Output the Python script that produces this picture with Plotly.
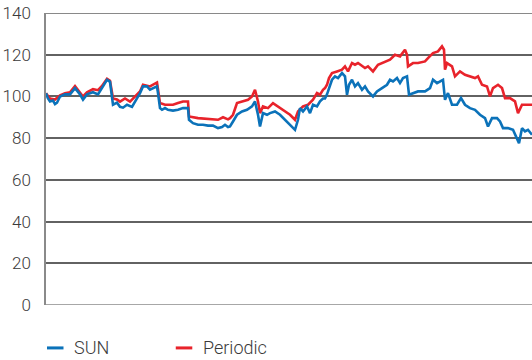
import plotly.graph_objects as go

# x positions as trading-day index
sun_days = [0, 2, 4, 7, 9, 11, 14, 19, 24, 29, 34, 37, 41, 47, 52, 56, 61, 64, 67, 71, 74, 77, 81, 86, 91,
            94, 97, 101, 104, 107, 111, 112, 114, 116, 119, 122, 127, 132, 137, 142, 143, 147, 152, 157, 162,
            167, 172, 176, 179, 182, 184, 187, 191, 196, 201, 206, 209, 212, 214, 217, 221, 224, 229, 234, 239,
            244, 249, 252, 254, 257, 261, 264, 267, 271, 274, 277, 279, 281, 283, 286, 289, 292, 296, 299, 301,
            303, 306, 309, 312, 316, 319, 322, 327, 331, 336, 341, 344, 347, 351, 354, 357, 361, 363, 367, 372,
            377, 379, 384, 387, 391, 394, 397, 399, 402, 406, 411, 415, 419, 424, 429, 434, 439, 442, 446, 451,
            454, 457, 462, 467, 471, 473, 476, 479, 482, 486]
sun_values = [101.5, 99, 97.6, 98, 96.3, 97, 100, 101, 101, 104, 101, 98.5, 101, 102, 101, 104, 108, 107, 96, 97,
              95, 94.6, 96, 95, 99, 101.6, 104.8, 104.8, 103.2, 104, 104.8, 101.6, 94.4, 93.6, 94.4, 93.6, 93.2,
              93.6, 94.4, 94.4, 88.8, 87.2, 86.4, 86.4, 86, 86, 84.8, 85.3, 86.4, 85.3, 85.6, 88, 91.2, 92.8, 93.6,
              95.2, 97.6, 91.2, 85.6, 92, 91.2, 92, 92.8, 91.2, 88.8, 86.4, 84, 88.8, 94.4, 92.8, 95.2, 92, 96,
              95.2, 97.6, 99, 99, 101, 104, 108, 109.6, 108.8, 111.2, 109.6, 100.8, 105.6, 108, 104.8, 106.4, 103.2,
              104.8, 102.4, 100, 102.4, 104, 105.6, 108, 107.2, 108.8, 106.4, 108.8, 109.6, 100.8, 101.6, 102.4,
              102.4, 102.4, 104, 108, 106.4, 107.2, 108, 98.4, 101.6, 96, 96, 99.2, 96, 94.4, 93.6, 91.2, 89.6,
              85.6, 89.6, 89.6, 88, 84.8, 84.8, 84, 80, 77.6, 84.8, 83.2, 84, 81.6]

per_days = [0, 4, 9, 14, 19, 24, 29, 34, 37, 41, 47, 52, 56, 61, 64, 67, 71, 74, 79, 84, 89, 94, 97, 104, 111,
            112, 114, 119, 127, 132, 137, 142, 143, 152, 162, 172, 177, 182, 184, 187, 191, 196, 202, 206, 209,
            212, 214, 217, 222, 227, 232, 237, 244, 249, 252, 257, 262, 267, 271, 274, 277, 279, 281, 283, 286,
            291, 296, 299, 302, 306, 309, 312, 316, 319, 322, 327, 332, 339, 344, 349, 354, 359, 361, 362, 367,
            372, 377, 379, 382, 387, 392, 396, 398, 399, 401, 406, 409, 414, 419, 424, 429, 432, 436, 441, 444,
            447, 452, 456, 459, 464, 469, 472, 476, 481, 486]
per_values = [101.5, 99, 98.5, 100.5, 101.5, 102, 105, 102, 100, 102, 103.5, 103, 105, 108.5, 107.5, 99, 98.5,
              97.5, 99, 97.5, 100, 102.4, 105.6, 104.8, 106.7, 104, 96.8, 96, 96, 96.8, 97.6, 97.6, 90.4, 89.6,
              89.1, 88.8, 90, 89, 89.6, 91.2, 96.8, 97.6, 98.4, 100, 103.2, 97.6, 92, 95.2, 94.4, 96.8, 95.2, 93.6,
              91.2, 88.8, 92.8, 95.2, 96, 98.4, 101.6, 100.8, 103.2, 104, 105.6, 108.8, 111.2, 112, 112.8, 114.4,
              112, 116, 115.2, 116, 114.4, 113.6, 114.4, 112, 115.2, 116.8, 117.6, 120, 119.2, 122.4, 120, 114.4,
              116, 116, 116.8, 116.8, 118.4, 120.8, 121.6, 124, 122.4, 112.8, 116, 114.4, 109.6, 112, 110.4, 109.6,
              108.8, 109.6, 105.6, 104.8, 100, 104, 105.6, 104, 99.2, 99.2, 97.6, 92, 96, 96, 96]

y_ticks = [0, 20, 40, 60, 80, 100, 120, 140]

series_names = ["SUN", "Periodic"]
blue = "#0b72b9"
red = "#e8232b"

fig = go.Figure()
fig.add_trace(go.Scatter(x=per_days, y=per_values, mode="lines", name=series_names[1],
                         line=dict(color=red, width=2.6), showlegend=False))
fig.add_trace(go.Scatter(x=sun_days, y=sun_values, mode="lines", name=series_names[0],
                         line=dict(color=blue, width=2.6), showlegend=False))

font_family = "Roboto"
fig.update_layout(
    width=532, height=360,
    margin=dict(l=46, r=0, t=13, b=55),
    paper_bgcolor="white", plot_bgcolor="white",
    font=dict(family=font_family, size=16, color="#3a3a3a", weight=300),
    xaxis=dict(range=[0, 486], showticklabels=False, showgrid=False, zeroline=False,
               showline=False, ticks=""),
    yaxis=dict(range=[0, 140], tickvals=y_ticks, showgrid=True, gridcolor="#626262", gridwidth=1.5,
               zeroline=False, showline=True, linecolor="#8a8a8a", linewidth=1.5,
               ticks="", ticklabelstandoff=10, ticklabeloverflow="allow",
               tickfont=dict(family=font_family, size=17, color="#3a3a3a", weight=300)),
    showlegend=False,
)
# top grid line at 140 and bottom axis line (0 baseline)
fig.add_shape(type="line", xref="paper", yref="y", x0=0, x1=1, y0=y_ticks[-1], y1=y_ticks[-1],
              line=dict(color="#626262", width=1.5))
fig.add_shape(type="line", xref="paper", yref="y", x0=0, x1=1, y0=0, y1=0,
              line=dict(color="#8a8a8a", width=1.5))

# legend drawn at bottom
leg_y = -0.147
for name, col, x0 in [(series_names[0], blue, 0.002), (series_names[1], red, 0.267)]:
    fig.add_shape(type="line", xref="paper", yref="paper", x0=x0, x1=x0 + 0.034, y0=leg_y, y1=leg_y,
                  line=dict(color=col, width=3))
    fig.add_annotation(xref="paper", yref="paper", x=x0 + 0.052, y=leg_y, text=name, showarrow=False,
                       xanchor="left", yanchor="middle",
                       font=dict(family=font_family, size=18, color="#3a3a3a", weight=300))

fig.write_html("out.html", config={"displayModeBar": False},
               post_script="document.body.style.margin='0';")
